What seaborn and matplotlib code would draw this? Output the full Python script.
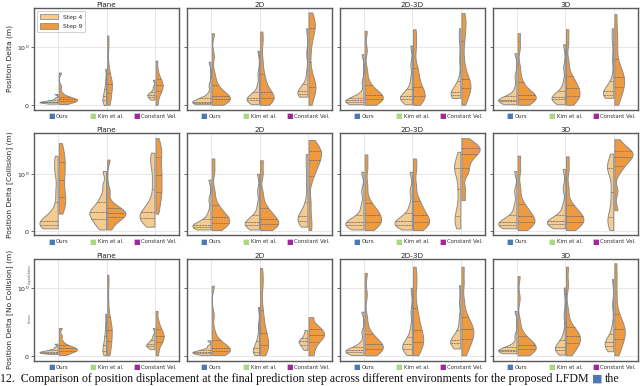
import numpy as np
import pandas as pd
import matplotlib
matplotlib.use("Agg")
import matplotlib.pyplot as plt
import seaborn as sns
from matplotlib.patches import Patch
from matplotlib.ticker import FixedLocator, NullLocator
from matplotlib.offsetbox import TextArea, HPacker, AnnotationBbox

# ---------------- data (metres) ----------------
methods = ["Ours", "Kim et al.", "Constant Vel."]
method_colors = ["#4a78b8", "#a9d87e", "#a0289c"]
steps = ["Step 4", "Step 9"]
step_colors = ["#f5cb90", "#f09a3f"]
environments = ["Plane", "2D", "2D-3D", "3D"]
row_labels = ["Position Delta (m)", "Position Delta [Collision] (m)",
              "Position Delta [No Collision] (m)"]

# Row 1: Position Delta
pos_plane_s4 = [[0.03, 0.04, 0.045, 0.05, 0.055, 0.06, 0.062, 0.068, 0.075, 0.085, 0.1, 0.13, 0.195],
                [0.007, 0.04, 0.07, 0.09, 0.12, 0.15, 0.18, 0.22, 0.27, 0.33, 0.45, 0.63],
                [0.1, 0.12, 0.13, 0.15, 0.17, 0.18, 0.19, 0.21, 0.22, 0.26, 0.32, 0.44]]
pos_plane_s9 = [[0.024, 0.05, 0.065, 0.075, 0.085, 0.095, 0.1, 0.11, 0.12, 0.13, 0.16, 0.22, 0.33, 0.565],
                [0.01, 0.08, 0.15, 0.22, 0.28, 0.33, 0.37, 0.42, 0.46, 0.55, 0.7, 1.0, 1.67],
                [0.01, 0.12, 0.2, 0.24, 0.28, 0.32, 0.35, 0.38, 0.42, 0.46, 0.52, 0.62, 0.77]]
pos_2d_s4 = [[0.02, 0.03, 0.04, 0.045, 0.05, 0.058, 0.063, 0.07, 0.08, 0.1, 0.13, 0.2, 0.35, 0.75],
             [0.02, 0.05, 0.07, 0.085, 0.1, 0.11, 0.12, 0.14, 0.16, 0.18, 0.24, 0.35, 0.55, 0.94],
             [0.15, 0.16, 0.17, 0.19, 0.21, 0.22, 0.23, 0.25, 0.28, 0.3, 0.38, 0.55, 0.9, 2.3]]
pos_2d_s9 = [[0.01, 0.06, 0.08, 0.1, 0.11, 0.12, 0.14, 0.16, 0.19, 0.24, 0.31, 0.4, 0.55, 0.85, 1.85],
             [0.01, 0.06, 0.09, 0.11, 0.13, 0.16, 0.19, 0.23, 0.3, 0.38, 0.47, 0.6, 0.8, 1.2, 1.99],
             [0.01, 0.15, 0.25, 0.3, 0.33, 0.36, 0.42, 0.6, 0.9, 1.3, 1.9, 2.3, 2.6, 3.0, 3.4, 4.6]]
pos_2d3d_s4 = [[0.02, 0.035, 0.045, 0.055, 0.065, 0.075, 0.08, 0.09, 0.1, 0.115, 0.14, 0.2, 0.4, 0.88],
               [0.02, 0.06, 0.085, 0.1, 0.12, 0.14, 0.15, 0.17, 0.2, 0.24, 0.3, 0.45, 0.7, 1.08],
               [0.13, 0.14, 0.15, 0.17, 0.19, 0.21, 0.22, 0.24, 0.27, 0.32, 0.45, 0.8, 1.4, 2.3]]
pos_2d3d_s9 = [[0.01, 0.06, 0.09, 0.11, 0.12, 0.13, 0.15, 0.17, 0.2, 0.25, 0.31, 0.4, 0.6, 0.95, 2.05],
               [0.01, 0.08, 0.12, 0.14, 0.18, 0.22, 0.27, 0.32, 0.4, 0.5, 0.58, 0.7, 0.95, 1.4, 2.2],
               [0.01, 0.12, 0.2, 0.27, 0.31, 0.34, 0.37, 0.42, 0.5, 0.62, 0.8, 1.2, 1.8, 2.6, 3.4, 4.5]]
pos_3d_s4 = [[0.02, 0.04, 0.055, 0.065, 0.075, 0.085, 0.095, 0.1, 0.11, 0.125, 0.14, 0.18, 0.3, 0.5, 0.9],
             [0.02, 0.06, 0.08, 0.1, 0.11, 0.13, 0.14, 0.16, 0.18, 0.21, 0.27, 0.4, 0.65, 1.14],
             [0.13, 0.15, 0.165, 0.18, 0.2, 0.22, 0.23, 0.25, 0.28, 0.33, 0.45, 0.8, 1.4, 2.3]]
pos_3d_s9 = [[0.01, 0.06, 0.09, 0.11, 0.12, 0.14, 0.16, 0.18, 0.21, 0.26, 0.34, 0.45, 0.65, 1.0, 1.85],
             [0.01, 0.07, 0.12, 0.15, 0.18, 0.22, 0.26, 0.3, 0.35, 0.4, 0.45, 0.55, 0.75, 1.2, 2.2],
             [0.01, 0.12, 0.2, 0.27, 0.32, 0.37, 0.42, 0.47, 0.52, 0.58, 0.64, 0.75, 0.95, 1.4, 2.3, 4.3]]

# Row 2: Position Delta [Collision]
col_plane_s4 = [[0.04, 0.05, 0.07, 0.09, 0.11, 0.13, 0.14, 0.16, 0.19, 0.22, 0.3, 0.45, 0.7, 1.0, 1.5, 2.27],
                [0.02, 0.1, 0.15, 0.2, 0.25, 0.29, 0.32, 0.35, 0.39, 0.45, 0.52, 0.62, 0.8, 1.14],
                [0.07, 0.14, 0.18, 0.21, 0.24, 0.27, 0.29, 0.33, 0.4, 0.45, 0.6, 0.85, 1.3, 1.9, 2.6]]
col_plane_s9 = [[0.3, 0.4, 0.48, 0.55, 0.62, 0.7, 0.8, 0.9, 1.0, 1.19, 1.51, 1.85, 2.27, 2.93, 4.0],
                [0.02, 0.12, 0.18, 0.22, 0.25, 0.27, 0.29, 0.31, 0.33, 0.35, 0.38, 0.42, 0.48, 0.7, 1.9],
                [0.3, 0.45, 0.55, 0.65, 0.72, 0.8, 0.9, 0.98, 1.14, 1.47, 1.9, 2.45, 2.91, 3.59, 5.0]]
col_2d_s4 = [[0.02, 0.035, 0.05, 0.06, 0.07, 0.08, 0.095, 0.11, 0.13, 0.16, 0.22, 0.33, 0.55, 0.9],
             [0.02, 0.05, 0.07, 0.09, 0.11, 0.13, 0.15, 0.17, 0.2, 0.23, 0.3, 0.45, 0.7, 1.01],
             [0.07, 0.11, 0.14, 0.17, 0.2, 0.22, 0.24, 0.28, 0.33, 0.4, 0.55, 0.85, 1.4, 2.45]]
col_2d_s9 = [[0.01, 0.07, 0.11, 0.13, 0.15, 0.18, 0.21, 0.24, 0.29, 0.34, 0.39, 0.5, 0.7, 1.1, 2.0],
             [0.01, 0.05, 0.08, 0.1, 0.12, 0.15, 0.18, 0.21, 0.26, 0.31, 0.36, 0.45, 0.65, 1.0, 1.85],
             [0.01, 0.2, 0.5, 0.9, 1.1, 1.3, 1.6, 1.85, 2.1, 2.4, 2.7, 2.9, 3.1, 3.5, 4.6]]
col_2d3d_s4 = [[0.02, 0.045, 0.07, 0.09, 0.11, 0.12, 0.14, 0.16, 0.19, 0.22, 0.3, 0.45, 0.7, 1.1],
               [0.02, 0.05, 0.08, 0.1, 0.12, 0.14, 0.16, 0.18, 0.21, 0.25, 0.32, 0.45, 0.7, 1.1],
               [0.04, 0.1, 0.18, 0.25, 0.3, 0.45, 0.65, 0.8, 1.0, 1.2, 1.35, 1.5, 1.8, 2.7]]
col_2d3d_s9 = [[0.01, 0.07, 0.11, 0.14, 0.17, 0.21, 0.25, 0.28, 0.33, 0.38, 0.43, 0.55, 0.8, 1.3, 2.4],
               [0.01, 0.07, 0.1, 0.13, 0.16, 0.2, 0.24, 0.28, 0.34, 0.41, 0.48, 0.58, 0.8, 1.2, 2.0],
               [0.54, 0.75, 1.0, 1.2, 1.6, 2.0, 2.3, 2.6, 2.9, 3.1, 3.3, 3.6, 4.0, 5.0]]
col_3d_s4 = [[0.04, 0.06, 0.08, 0.09, 0.1, 0.12, 0.14, 0.16, 0.19, 0.22, 0.3, 0.45, 0.7, 1.14],
             [0.04, 0.07, 0.09, 0.11, 0.13, 0.15, 0.16, 0.18, 0.2, 0.23, 0.3, 0.45, 0.75, 1.25],
             [0.01, 0.1, 0.16, 0.22, 0.27, 0.4, 0.6, 0.75, 1.0, 1.25, 1.35, 1.5, 1.7, 2.5]]
col_3d_s9 = [[0.01, 0.07, 0.11, 0.13, 0.16, 0.19, 0.22, 0.26, 0.31, 0.36, 0.42, 0.52, 0.75, 1.2, 2.27],
             [0.01, 0.07, 0.11, 0.14, 0.17, 0.2, 0.23, 0.26, 0.3, 0.35, 0.4, 0.5, 0.75, 1.2, 2.2],
             [0.36, 0.7, 1.1, 1.4, 1.7, 1.95, 2.15, 2.35, 2.55, 2.75, 3.0, 3.4, 4.76]]

# Row 3: Position Delta [No Collision]
nocol_plane_s4 = [[0.03, 0.04, 0.045, 0.05, 0.055, 0.06, 0.065, 0.07, 0.078, 0.087, 0.1, 0.13, 0.18],
                  [0.01, 0.03, 0.055, 0.08, 0.11, 0.14, 0.16, 0.2, 0.25, 0.3, 0.38, 0.48, 0.62],
                  [0.1, 0.12, 0.135, 0.15, 0.16, 0.17, 0.18, 0.2, 0.22, 0.25, 0.3, 0.41]]
nocol_plane_s9 = [[0.015, 0.04, 0.06, 0.075, 0.085, 0.095, 0.105, 0.115, 0.13, 0.145, 0.17, 0.22, 0.3, 0.41],
                  [0.01, 0.08, 0.14, 0.19, 0.25, 0.3, 0.34, 0.38, 0.43, 0.48, 0.53, 0.62, 0.8, 1.1, 1.63],
                  [0.01, 0.1, 0.17, 0.21, 0.24, 0.27, 0.3, 0.33, 0.36, 0.4, 0.45, 0.53, 0.66]]
nocol_2d_s4 = [[0.015, 0.025, 0.035, 0.042, 0.05, 0.056, 0.063, 0.07, 0.08, 0.09, 0.11, 0.15, 0.23],
               [0.015, 0.03, 0.045, 0.06, 0.08, 0.1, 0.12, 0.15, 0.19, 0.22, 0.3, 0.45, 0.72],
               [0.09, 0.12, 0.15, 0.17, 0.19, 0.21, 0.22, 0.24, 0.26, 0.29, 0.33, 0.38]]
nocol_2d_s9 = [[0.015, 0.04, 0.055, 0.065, 0.075, 0.09, 0.1, 0.12, 0.14, 0.17, 0.2, 0.26, 0.38, 0.6, 1.08],
               [0.01, 0.07, 0.11, 0.14, 0.18, 0.23, 0.28, 0.33, 0.4, 0.5, 0.6, 0.75, 1.0, 1.4, 2.1],
               [0.01, 0.1, 0.17, 0.22, 0.26, 0.29, 0.32, 0.35, 0.38, 0.42, 0.47, 0.57]]
nocol_2d3d_s4 = [[0.015, 0.03, 0.04, 0.05, 0.06, 0.07, 0.08, 0.09, 0.1, 0.11, 0.14, 0.2, 0.35, 0.65],
                 [0.015, 0.05, 0.08, 0.1, 0.12, 0.14, 0.16, 0.18, 0.21, 0.24, 0.3, 0.42, 0.65, 1.0],
                 [0.11, 0.14, 0.16, 0.18, 0.2, 0.22, 0.23, 0.25, 0.28, 0.32, 0.4, 0.55, 0.8, 1.1]]
nocol_2d3d_s9 = [[0.01, 0.05, 0.07, 0.09, 0.11, 0.13, 0.15, 0.17, 0.2, 0.24, 0.28, 0.36, 0.55, 0.9, 1.75],
                 [0.01, 0.09, 0.15, 0.19, 0.23, 0.28, 0.33, 0.38, 0.46, 0.55, 0.63, 0.78, 1.0, 1.45, 2.2],
                 [0.01, 0.1, 0.17, 0.23, 0.27, 0.31, 0.35, 0.39, 0.43, 0.48, 0.53, 0.62, 0.8, 1.2, 2.2]]
nocol_3d_s4 = [[0.04, 0.05, 0.058, 0.065, 0.072, 0.08, 0.085, 0.092, 0.1, 0.11, 0.13, 0.18, 0.3, 0.66],
               [0.02, 0.05, 0.07, 0.085, 0.1, 0.12, 0.13, 0.145, 0.165, 0.19, 0.24, 0.35, 0.6, 1.01],
               [0.07, 0.1, 0.12, 0.14, 0.16, 0.18, 0.19, 0.21, 0.24, 0.27, 0.33, 0.45, 0.75, 1.39]]
nocol_3d_s9 = [[0.01, 0.05, 0.07, 0.09, 0.105, 0.12, 0.14, 0.16, 0.19, 0.22, 0.26, 0.33, 0.5, 0.85, 1.55],
               [0.01, 0.08, 0.13, 0.17, 0.2, 0.23, 0.26, 0.29, 0.32, 0.35, 0.38, 0.46, 0.65, 1.1, 2.2],
               [0.01, 0.1, 0.17, 0.23, 0.28, 0.32, 0.36, 0.4, 0.45, 0.5, 0.56, 0.68, 0.9, 1.4, 2.5]]

grid_data = [
    [(pos_plane_s4, pos_plane_s9), (pos_2d_s4, pos_2d_s9), (pos_2d3d_s4, pos_2d3d_s9), (pos_3d_s4, pos_3d_s9)],
    [(col_plane_s4, col_plane_s9), (col_2d_s4, col_2d_s9), (col_2d3d_s4, col_2d3d_s9), (col_3d_s4, col_3d_s9)],
    [(nocol_plane_s4, nocol_plane_s9), (nocol_2d_s4, nocol_2d_s9), (nocol_2d3d_s4, nocol_2d3d_s9), (nocol_3d_s4, nocol_3d_s9)],
]
row_ylims = [(-0.074, 5.6), (-0.081, 6.17), (-0.069, 2.94)]

caption_main = ("12.  Comparison of position displacement at the final prediction step "
                "across different environments for the proposed LFDM")
caption_tail = "the"

# ---------------- styling ----------------
sns.set_theme(style="whitegrid")
plt.rcParams["font.family"] = ["DejaVu Sans"]
plt.rcParams["axes.edgecolor"] = "#555555"
plt.rcParams["grid.color"] = "#e8e8e8"
plt.rcParams["grid.linewidth"] = 0.7

fig, axes = plt.subplots(3, 4, figsize=(6.4, 3.86), dpi=100, sharey="row")
fig.subplots_adjust(left=34 / 640, right=638 / 640, top=1 - 8 / 386,
                    bottom=1 - 360.7 / 386, wspace=0.053, hspace=0.234)

line_col = "#8c8c8c"
for r in range(3):
    for c in range(4):
        ax = axes[r, c]
        ax.set_yscale("symlog", linthresh=1, linscale=1)
        s4, s9 = grid_data[r][c]
        recs = []
        for mi, m in enumerate(methods):
            for v in s4[mi]:
                recs.append((m, steps[0], v))
            for v in s9[mi]:
                recs.append((m, steps[1], v))
        df = pd.DataFrame(recs, columns=["method", "step", "value"])
        sns.violinplot(data=df, x="method", y="value", hue="step", order=methods,
                       hue_order=steps, split=True, inner="quart", cut=0,
                       palette=step_colors, saturation=1, linewidth=0.7,
                       linecolor=line_col, gap=0.06, bw_adjust=0.5,
                       density_norm="area", legend=False, ax=ax,
                       inner_kws=dict(color="#6e6e6e", linewidth=0.6))
        ax.set_ylim(*row_ylims[r])
        ax.yaxis.set_major_locator(FixedLocator([0, 1]))
        ax.yaxis.set_minor_locator(NullLocator())
        ax.set_xlim(-0.5, 2.5)
        ax.set_xticks(range(3))
        ax.set_xticklabels([])
        ax.tick_params(axis="x", length=0)
        ax.tick_params(axis="y", which="major", left=True, length=2, width=0.6,
                       color="#555555", labelsize=4.5, pad=1.5)
        ax.set_xlabel("")
        ax.set_ylabel(row_labels[r] if c == 0 else "", fontsize=5.4, labelpad=3)
        ax.set_title(environments[c], fontsize=5.2, pad=0.8)
        for sp in ax.spines.values():
            sp.set_linewidth(1.0)
            sp.set_color("#5a5a5a")
        ax.grid(True, axis="both")
        ax.set_axisbelow(True)
        for i, (m, mc) in enumerate(zip(methods, method_colors)):
            sq = TextArea("\u25A0", textprops=dict(color=mc, fontsize=5))
            tx = TextArea(m, textprops=dict(color="#333333", fontsize=3.9))
            box = HPacker(children=[sq, tx], align="center", pad=0, sep=1)
            ab = AnnotationBbox(box, (i, 0), xycoords=ax.get_xaxis_transform(),
                                xybox=(0, -2.5), boxcoords="offset points",
                                box_alignment=(0.5, 1), frameon=False, pad=0,
                                annotation_clip=False)
            ax.add_artist(ab)

# legend
handles = [Patch(facecolor=col, edgecolor=line_col, linewidth=0.6, label=s)
           for s, col in zip(steps, step_colors)]
leg = axes[0, 0].legend(handles=handles, loc="upper left", fontsize=4.3, frameon=True,
                        handlelength=3.0, handleheight=1.0, borderpad=0.5,
                        labelspacing=0.6, handletextpad=0.8, fancybox=True,
                        bbox_to_anchor=(0.0, 1.0))
leg.get_frame().set_edgecolor("#bbbbbb")
leg.get_frame().set_linewidth(0.6)

# linear / logarithmic hints in last row
ax = axes[2, 0]
tr = matplotlib.transforms.blended_transform_factory(ax.transAxes, ax.transData)
ax.text(-0.028, 1.7, "logarithmic", rotation=90, fontsize=2.5, color="#555555",
        ha="center", va="center", transform=tr)
ax.text(-0.028, 0.55, "linear", rotation=90, fontsize=2.5, color="#555555",
        ha="center", va="center", transform=tr)

# caption at the bottom
cap_y = 0.6 / 386
cap1 = fig.text(0.0, cap_y, caption_main, fontsize=8.6, family="Liberation Serif",
                va="bottom", ha="left", color="#111111")
fig.canvas.draw()
bb = cap1.get_window_extent()
sqt = fig.text((bb.x1 + 3) / fig.bbox.width, cap_y + 1.5 / 386, "\u25A0", fontsize=8,
               color=method_colors[0], va="bottom", ha="left")
fig.canvas.draw()
bb2 = sqt.get_window_extent()
fig.text((bb2.x1 + 3) / fig.bbox.width, cap_y, caption_tail, fontsize=8.6,
         family="Liberation Serif", va="bottom", ha="left", color="#111111")

fig.savefig("out.png", dpi=100)
